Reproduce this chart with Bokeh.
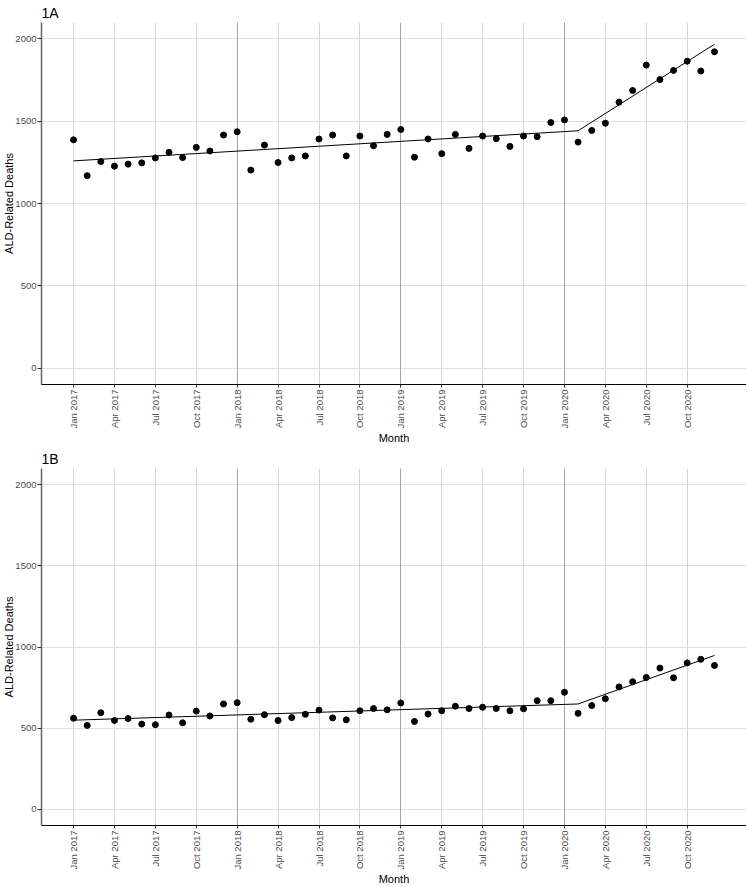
import math
from bokeh.plotting import figure
from bokeh.layouts import column
from bokeh.models import FixedTicker, Grid, Range1d
from bokeh.embed import file_html
from bokeh.resources import INLINE

# Months Jan 2017 .. Dec 2020 as index 0..47
month_index = list(range(48))

deaths_1a = [1387, 1169, 1255, 1227, 1239, 1247, 1277, 1311, 1279, 1341, 1319, 1416,
             1436, 1203, 1355, 1249, 1277, 1289, 1392, 1416, 1289, 1410, 1351, 1420,
             1450, 1281, 1392, 1303, 1420, 1335, 1410, 1394, 1347, 1410, 1406, 1492,
             1508, 1373, 1444, 1488, 1616, 1687, 1841, 1753, 1809, 1865, 1805, 1922]

deaths_1b = [561, 517, 595, 547, 559, 525, 521, 581, 533, 605, 575, 649,
             657, 555, 583, 547, 565, 585, 611, 563, 551, 607, 621, 613,
             655, 541, 587, 607, 635, 621, 629, 621, 607, 619, 669, 669,
             721, 591, 639, 681, 754, 786, 812, 870, 810, 902, 924, 886]

# segmented trend (start, breakpoint Feb 2020, end)
trend_index = [0, 37, 47]
trend_1a = [1259, 1442, 1968]
trend_1b = [549, 649, 948]

tick_positions = list(range(0, 48, 3))
tick_labels = ["Jan 2017", "Apr 2017", "Jul 2017", "Oct 2017",
               "Jan 2018", "Apr 2018", "Jul 2018", "Oct 2018",
               "Jan 2019", "Apr 2019", "Jul 2019", "Oct 2019",
               "Jan 2020", "Apr 2020", "Jul 2020", "Oct 2020"]
year_start_positions = [12, 24, 36]
y_ticks = [0, 500, 1000, 1500, 2000]

FONT = "Liberation Sans"


def make_panel(title, values, trend, h, top_b):
    p = figure(width=746, height=h, output_backend="svg", toolbar_location=None,
               x_range=Range1d(-2.35, 49.35), y_range=Range1d(-100, 2100),
               min_border_left=0, min_border_right=0,
               min_border_top=top_b, min_border_bottom=0)
    p.outline_line_color = None
    p.background_fill_color = "white"
    p.border_fill_color = "white"

    p.title.text = title
    p.title.text_font = FONT
    p.title.text_font_size = "14px"
    p.title.text_font_style = "normal"
    p.title.text_color = "black"
    p.title.standoff = 4

    # axes
    p.xaxis.ticker = FixedTicker(ticks=tick_positions)
    p.xaxis.major_label_overrides = {t: l for t, l in zip(tick_positions, tick_labels)}
    p.xaxis.major_label_orientation = math.pi / 2
    p.xaxis.minor_tick_line_color = None
    p.xaxis.axis_label = "Month"
    p.xaxis.axis_line_color = "black"
    p.xaxis.major_tick_line_color = "#333333"
    p.xaxis.major_tick_out = 3
    p.xaxis.major_tick_in = 0
    p.xaxis.axis_label_standoff = 0
    p.xaxis.major_label_standoff = 2

    p.yaxis.ticker = FixedTicker(ticks=y_ticks)
    p.yaxis.minor_tick_line_color = None
    p.yaxis.axis_label = "ALD-Related Deaths"
    p.yaxis.axis_line_color = "#666666"
    p.yaxis.axis_line_width = 1.5
    p.yaxis.major_tick_line_color = "#333333"
    p.yaxis.major_tick_out = 4
    p.yaxis.major_tick_in = 0
    p.yaxis.axis_label_standoff = -3
    p.yaxis.major_label_standoff = 1

    for ax in (p.xaxis[0], p.yaxis[0]):
        ax.major_label_text_font = FONT
        ax.major_label_text_font_size = "9.5px"
        ax.major_label_text_color = "#4d4d4d"
        ax.axis_label_text_font = FONT
        ax.axis_label_text_font_size = "11px"
        ax.axis_label_text_font_style = "normal"
        ax.axis_label_text_color = "black"

    # grids
    p.xgrid.ticker = FixedTicker(ticks=tick_positions)
    p.xgrid.grid_line_color = "#d6d6d6"
    p.xgrid.grid_line_width = 1
    p.ygrid.ticker = FixedTicker(ticks=y_ticks)
    p.ygrid.grid_line_color = "#dedede"
    p.ygrid.grid_line_width = 1
    p.add_layout(Grid(dimension=0, ticker=FixedTicker(ticks=year_start_positions),
                      grid_line_color="#a3a3a3", grid_line_width=1))

    p.line(trend_index, trend, line_color="black", line_width=1)
    p.scatter(month_index, values, size=6, fill_color="black", line_color="black")
    return p


pa = make_panel("1A", deaths_1a, trend_1a, 446, 2)
pb = make_panel("1B", deaths_1b, trend_1b, 441, 6)

layout = column(pa, pb, spacing=0)
open("out.html", "w").write(file_html(layout, INLINE))
